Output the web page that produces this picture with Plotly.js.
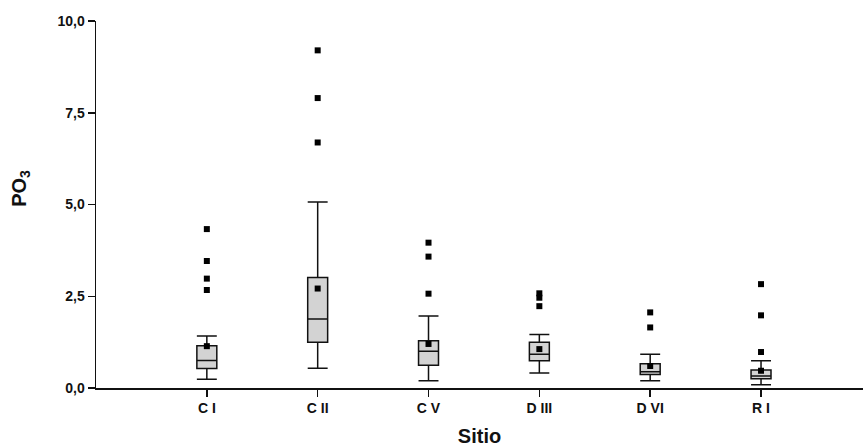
<!DOCTYPE html>
<html>
<head>
<meta charset="utf-8">
<script src="https://cdn.plot.ly/plotly-3.0.1.min.js"></script>
<style>html,body{margin:0;padding:0;background:#fff;}#chart{width:863px;height:448px;}</style>
</head>
<body>
<div id="chart"></div>
<script>
// Categories (sites)
const categories = ['C I', 'C II', 'C V', 'D III', 'D VI', 'R I'];
// Box statistics per site
const lowerWhisker = [0.24, 0.54, 0.20, 0.41, 0.20, 0.09];
const q1 = [0.53, 1.25, 0.62, 0.74, 0.37, 0.25];
const median = [0.75, 1.88, 1.00, 0.92, 0.44, 0.33];
const q3 = [1.15, 3.01, 1.29, 1.25, 0.66, 0.49];
const upperWhisker = [1.42, 5.07, 1.96, 1.46, 0.92, 0.74];
const means = [1.14, 2.71, 1.20, 1.06, 0.60, 0.47];
// Outliers
const outlierSite = ['C I', 'C I', 'C I', 'C I', 'C II', 'C II', 'C II', 'C V', 'C V', 'C V', 'D III', 'D III', 'D III', 'D VI', 'D VI', 'R I', 'R I', 'R I'];
const outlierValue = [4.33, 3.46, 2.98, 2.67, 9.20, 7.90, 6.69, 3.96, 3.58, 2.57, 2.58, 2.46, 2.23, 2.06, 1.65, 2.83, 1.98, 0.98];
// Y tick values
const yTicks = [0, 2.5, 5, 7.5, 10];

const tickFont = {family: 'Liberation Sans, Arial, sans-serif', size: 14, color: '#111'};
const titleFont = {family: 'Liberation Sans, Arial, sans-serif', size: 20, color: '#111'};

const traces = [
  {
    type: 'box',
    x: categories,
    q1: q1,
    median: median,
    q3: q3,
    lowerfence: lowerWhisker,
    upperfence: upperWhisker,
    boxpoints: false,
    width: 0.18,
    whiskerwidth: 1,
    fillcolor: '#d3d3d3',
    line: {color: '#111', width: 1.5},
    showlegend: false,
    hoverinfo: 'skip'
  },
  {
    type: 'scatter',
    mode: 'markers',
    x: categories,
    y: means,
    marker: {symbol: 'square', size: 6, color: '#000'},
    showlegend: false
  },
  {
    type: 'scatter',
    mode: 'markers',
    x: outlierSite,
    y: outlierValue,
    marker: {symbol: 'square', size: 6, color: '#000'},
    showlegend: false
  }
];

const layout = {
  width: 863,
  height: 448,
  margin: {l: 96, r: 0, t: 21, b: 60},
  paper_bgcolor: '#fff',
  plot_bgcolor: '#fff',
  separators: ',.',
  showlegend: false,
  xaxis: {
    type: 'category',
    categoryorder: 'array',
    categoryarray: categories,
    range: [-1, 5.92],
    showline: true,
    linecolor: '#111',
    linewidth: 1.5,
    ticks: 'outside',
    ticklen: 7,
    tickwidth: 1.5,
    tickcolor: '#111',
    tickfont: tickFont,
    showgrid: false,
    zeroline: false,
    title: {text: '<b>Sitio</b>', font: titleFont, standoff: 13}
  },
  yaxis: {
    range: [0, 10],
    tickvals: yTicks,
    tickformat: '.1f',
    showline: true,
    linecolor: '#111',
    linewidth: 1.5,
    ticks: 'outside',
    ticklen: 7,
    tickwidth: 1.5,
    tickcolor: '#111',
    tickfont: tickFont,
    showgrid: false,
    zeroline: false
  },
  annotations: [
    {
      text: '<b>PO<sub>3</sub></b>',
      xref: 'paper', yref: 'paper',
      x: -0.098, y: 0.545,
      xanchor: 'center', yanchor: 'middle',
      textangle: -90,
      showarrow: false,
      font: titleFont
    }
  ]
};

// bold tick labels
layout.xaxis.ticktext = categories.map(c => '<b>' + c + '</b>');
layout.xaxis.tickvals = categories;
layout.yaxis.ticktext = yTicks.map(v => '<b>' + v.toFixed(1).replace('.', ',') + '</b>');

Plotly.newPlot('chart', traces, layout, {displayModeBar: false, staticPlot: true});
</script>
</body>
</html>
